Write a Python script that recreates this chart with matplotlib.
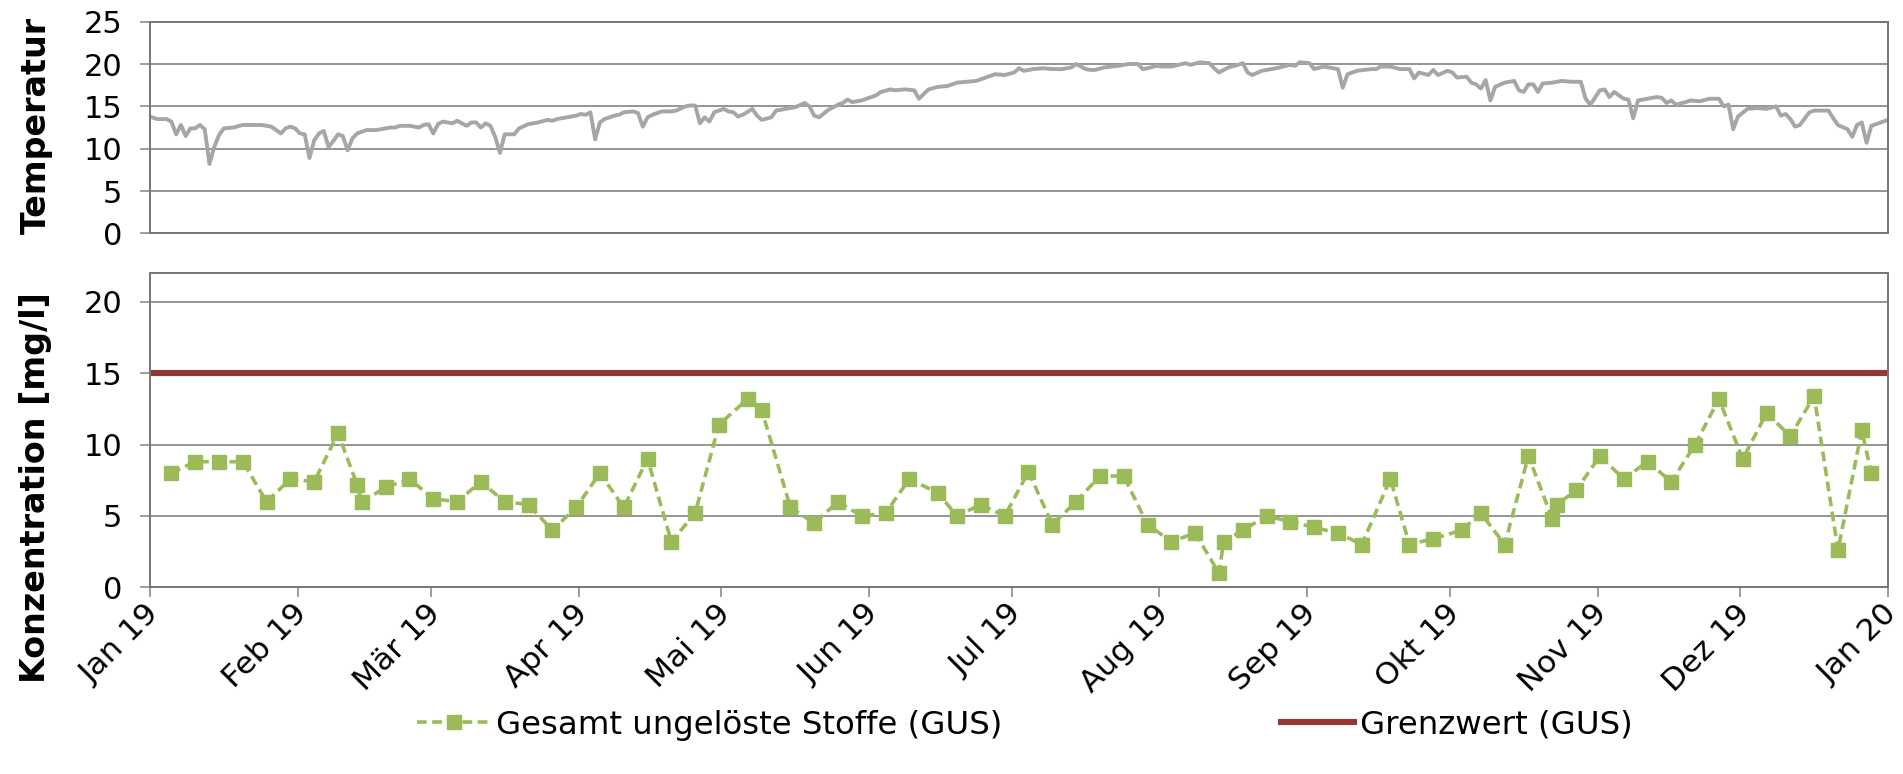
import matplotlib
matplotlib.use('Agg')
import matplotlib.pyplot as plt
import matplotlib.dates as mdates
import matplotlib.transforms as mtransforms
from matplotlib.lines import Line2D
import numpy as np
import datetime as dt

plt.rcParams['font.family'] = ['DejaVu Sans']

# ---------------- data ----------------
gus_dates = ["2019-01-05", "2019-01-10", "2019-01-15", "2019-01-20", "2019-01-25", "2019-01-30",
             "2019-02-04", "2019-02-09", "2019-02-13", "2019-02-14", "2019-02-19", "2019-02-24",
             "2019-03-01", "2019-03-06", "2019-03-11", "2019-03-16", "2019-03-21", "2019-03-26",
             "2019-03-31", "2019-04-05", "2019-04-10", "2019-04-15", "2019-04-20", "2019-04-25",
             "2019-04-30", "2019-05-06", "2019-05-09", "2019-05-15", "2019-05-20", "2019-05-25",
             "2019-05-30", "2019-06-04", "2019-06-09", "2019-06-15", "2019-06-19", "2019-06-24",
             "2019-06-29", "2019-07-04", "2019-07-09", "2019-07-14", "2019-07-19", "2019-07-24",
             "2019-07-29", "2019-08-03", "2019-08-08", "2019-08-13", "2019-08-14", "2019-08-18",
             "2019-08-23", "2019-08-28", "2019-09-02", "2019-09-07", "2019-09-12", "2019-09-18",
             "2019-09-22", "2019-09-27", "2019-10-03", "2019-10-07", "2019-10-12", "2019-10-17",
             "2019-10-22", "2019-10-23", "2019-10-27", "2019-11-01", "2019-11-06", "2019-11-11",
             "2019-11-16", "2019-11-21", "2019-11-26", "2019-12-01", "2019-12-06", "2019-12-11",
             "2019-12-16", "2019-12-21", "2019-12-26", "2019-12-28"]
gus_values = [8.0, 8.8, 8.8, 8.8, 6.0, 7.6,
              7.4, 10.8, 7.2, 6.0, 7.0, 7.6,
              6.2, 6.0, 7.4, 6.0, 5.8, 4.0,
              5.6, 8.0, 5.6, 9.0, 3.2, 5.2,
              11.4, 13.2, 12.4, 5.6, 4.5, 6.0,
              5.0, 5.2, 7.6, 6.6, 5.0, 5.8,
              5.0, 8.1, 4.4, 6.0, 7.8, 7.8,
              4.4, 3.2, 3.8, 1.0, 3.2, 4.0,
              5.0, 4.6, 4.2, 3.8, 3.0, 7.6,
              3.0, 3.4, 4.0, 5.2, 3.0, 9.2,
              4.8, 5.8, 6.8, 9.2, 7.6, 8.8,
              7.4, 10.0, 13.2, 9.0, 12.2, 10.6,
              13.4, 2.6, 11.0, 8.0]
grenzwert_gus = 15.0

# temperature: day of year (0 = 1 Jan 2019) and value at the line's vertices
temp_days = [0, 1, 3, 4, 5, 6, 7, 8, 9, 10, 11, 12, 13, 14, 15, 17, 19, 23, 25, 27,
             28, 29, 30, 31, 32, 33, 34, 35, 36, 37, 38, 39, 40, 41, 42, 43, 45, 47, 50, 51,
             52, 54, 56, 57, 58, 59, 60, 61, 63, 64, 65, 66, 67, 68, 69, 70, 71, 72, 73,
             74, 75, 76, 77, 79, 81, 83, 84, 85, 87, 89, 90, 91, 92, 93, 94, 95, 97, 98, 99,
             101, 102, 103, 104, 105, 107, 109, 110, 112, 113, 114, 115, 116, 117, 118, 120, 121, 122, 123, 124,
             126, 127, 128, 130, 131, 133, 135, 137, 138, 139, 140, 142, 144, 145, 146, 147,
             149, 150, 152, 153, 155, 156, 158, 160, 161, 163, 165, 167, 169, 171, 173, 175, 177, 179, 181, 182,
             183, 185, 187, 189, 191, 193, 194, 196, 197, 198, 200, 203, 205, 207, 208, 209, 211, 212, 214, 217,
             218, 220, 222, 223, 224, 226, 228, 229, 230, 231, 233, 236, 239, 240, 241, 243, 244, 246, 249, 250,
             251, 253, 256, 257, 258, 260, 262, 264, 265, 266, 268, 269, 270, 272, 273, 274, 276, 277, 278, 279,
             280, 281, 282, 284, 286, 287, 288, 289, 290, 291, 292, 294, 296, 298, 300, 301, 302, 304, 305, 306,
             307, 308, 309, 310, 311, 312, 314, 316, 317, 318, 319, 320, 322, 323, 325, 327, 329, 330, 331, 332,
             333, 335, 337, 339, 341, 342, 343, 344, 345, 346, 348, 349, 352, 353, 354, 356, 357, 358, 359, 360,
             361, 363, 364]
temp_values = [13.7, 13.5, 13.5, 13.2, 11.7, 12.8, 11.5, 12.4, 12.4, 12.8, 12.3, 8.2, 10.2, 11.6, 12.4, 12.5, 12.8, 12.8, 12.6, 11.8,
               12.4, 12.6, 12.4, 11.8, 11.7, 8.9, 11.0, 11.8, 12.1, 10.2, 10.9, 11.7, 11.5, 9.8, 11.2, 11.8, 12.2, 12.2, 12.5, 12.5,
               12.7, 12.7, 12.5, 12.8, 12.9, 11.8, 12.9, 13.2, 13.0, 13.3, 13.0, 12.7, 13.1, 13.1, 12.5, 13.0, 12.7, 11.4, 9.5,
               11.7, 11.7, 11.7, 12.4, 12.9, 13.1, 13.4, 13.3, 13.5, 13.7, 13.9, 14.1, 14.0, 14.3, 11.1, 13.1, 13.5, 13.9, 14.0, 14.3,
               14.4, 14.2, 12.6, 13.7, 14.0, 14.4, 14.4, 14.5, 15.0, 15.1, 15.1, 13.0, 13.7, 13.2, 14.3, 14.7, 14.4, 14.3, 13.8, 14.0,
               14.7, 13.9, 13.4, 13.7, 14.5, 14.7, 14.9, 15.4, 15.0, 13.9, 13.7, 14.6, 15.2, 15.4, 15.8, 15.5,
               15.7, 15.9, 16.3, 16.7, 17.0, 16.9, 17.0, 16.9, 15.9, 17.0, 17.3, 17.4, 17.8, 17.9, 18.0, 18.4, 18.8, 18.7, 19.0, 19.5,
               19.2, 19.4, 19.5, 19.4, 19.4, 19.6, 20.0, 19.4, 19.3, 19.3, 19.6, 19.8, 20.0, 20.0, 19.4, 19.5, 19.8, 19.7, 19.7, 20.1,
               19.9, 20.2, 20.1, 19.5, 19.0, 19.6, 19.9, 20.1, 19.0, 18.7, 19.2, 19.5, 19.9, 19.8, 20.2, 20.1, 19.4, 19.7, 19.4, 17.2,
               18.8, 19.2, 19.4, 19.4, 19.7, 19.7, 19.4, 19.4, 18.3, 19.0, 18.7, 19.3, 18.7, 19.2, 19.0, 18.4, 18.5, 17.8, 17.6, 17.1,
               18.1, 15.7, 17.3, 17.8, 18.0, 16.9, 16.7, 17.6, 17.6, 16.7, 17.7, 17.8, 18.0, 17.9, 17.9, 15.9, 15.2, 16.9, 17.0, 16.1,
               16.7, 16.3, 15.9, 15.8, 13.6, 15.7, 15.9, 16.1, 16.0, 15.4, 15.7, 15.2, 15.5, 15.7, 15.6, 15.9, 15.9, 15.0, 15.2, 12.3,
               13.8, 14.7, 14.8, 14.7, 15.0, 13.9, 14.1, 13.5, 12.6, 12.8, 14.3, 14.5, 14.5, 13.6, 12.8, 12.3, 11.4, 12.8, 13.1, 10.7,
               12.7, 13.1, 13.3]

month_labels = ["Jan 19", "Feb 19", "Mär 19", "Apr 19", "Mai 19", "Jun 19", "Jul 19",
                "Aug 19", "Sep 19", "Okt 19", "Nov 19", "Dez 19", "Jan 20"]
label_gus = "Gesamt ungelöste Stoffe (GUS)"
label_grenz = "Grenzwert (GUS)"

# ---------------- style ----------------
C_GREEN = '#9BBB59'
C_RED = '#953735'
C_TEMP = '#A6A6A6'
C_GRID = '#8C8C8C'
C_SPINE = '#767676'
FS_Y = 22
FS_X = 22.5
FS_TXT = 23.3
FS_LAB = 24

start = dt.date(2019, 1, 1)
x_start = mdates.date2num(start)
x_end = mdates.date2num(dt.date(2020, 1, 1))
month_ticks = [mdates.date2num(dt.date(2019, m, 1)) for m in range(1, 13)] + [x_end]

# Excel places each day in the middle of its day slot
gus_x = mdates.date2num([dt.date.fromisoformat(d) for d in gus_dates]) + 0.5
temp_x = x_start + np.array(temp_days) + 0.5

fig = plt.figure(figsize=(19.03, 7.74), dpi=100)
left, width = 0.0788, 0.9133
ax1 = fig.add_axes([left, 0.6985, width, 0.2735])
ax2 = fig.add_axes([left, 0.2412, width, 0.4056])

for ax in (ax1, ax2):
    ax.set_xlim(x_start, x_end)
    ax.yaxis.grid(True, color=C_GRID, lw=1.3)
    ax.set_axisbelow(True)
    for s in ax.spines.values():
        s.set_color(C_SPINE)
        s.set_linewidth(1.4)
    ax.tick_params(axis='y', direction='out', length=7, width=1.2, color=C_GRID,
                   labelsize=FS_Y, pad=13)

# top panel: temperature
ax1.plot(temp_x, temp_values, color=C_TEMP, lw=2.8, solid_joinstyle='round')
ax1.set_ylim(0, 25)
ax1.set_yticks(np.arange(0, 26, 5))
ax1.set_xticks([])

# bottom panel: GUS concentration
dash = (0, (2.7, 1.5))
ax2.axhline(grenzwert_gus, color=C_RED, lw=4.4, zorder=2)
ax2.plot(gus_x, gus_values, color=C_GREEN, lw=2.6, linestyle=dash,
         marker='s', ms=9.5, mfc=C_GREEN, mec=C_GREEN, zorder=3)
ax2.set_ylim(0, 22)
ax2.set_yticks(np.arange(0, 21, 5))
ax2.set_xticks(month_ticks)
ax2.set_xticklabels(month_labels, rotation=45, ha='right', va='center',
                    rotation_mode='anchor')
ax2.tick_params(axis='x', direction='out', length=7, width=1.2, color=C_GRID,
                labelsize=FS_X, pad=13)
shift = mtransforms.ScaledTranslation(5 / 100, 6 / 100, fig.dpi_scale_trans)
for lab in ax2.get_xticklabels():
    lab.set_transform(lab.get_transform() + shift)

fig.text(36 / 1903, 1 - 125 / 774, "Temperatur", rotation=90, fontsize=FS_LAB,
         fontweight='bold', ha='center', va='center')
fig.text(36 / 1903, 1 - 488 / 774, "Konzentration [mg/l]", rotation=90, fontsize=FS_LAB,
         fontweight='bold', ha='center', va='center')

handles = [Line2D([], [], color=C_GREEN, lw=2.6, linestyle=dash,
                  marker='s', ms=9.5, mfc=C_GREEN, mec=C_GREEN),
           Line2D([], [], color=C_RED, lw=4.4)]
fig.legend(handles, [label_gus, label_grenz], loc='center',
           bbox_to_anchor=(0.5387, 0.063), ncol=2, frameon=False, fontsize=FS_TXT,
           handlelength=2.25, handletextpad=0.2, columnspacing=8.6)

fig.savefig('out.png', dpi=100)
